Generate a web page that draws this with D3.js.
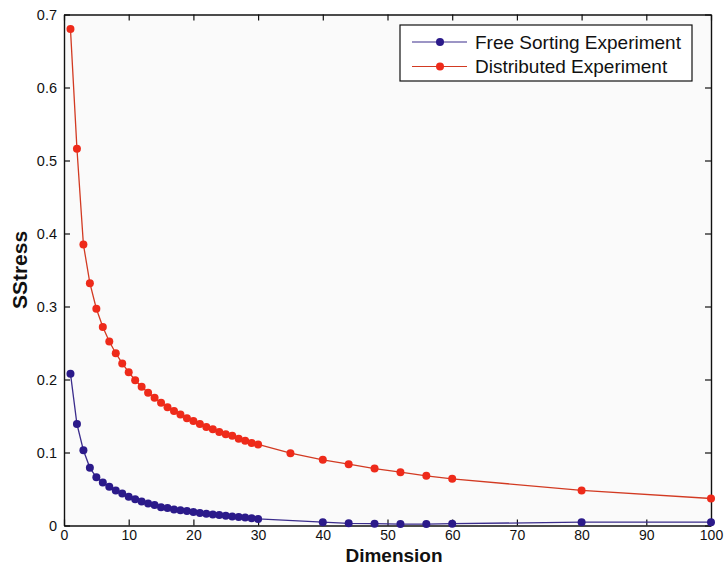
<!DOCTYPE html>
<html>
<head>
<meta charset="utf-8">
<script src="https://cdn.jsdelivr.net/npm/d3@7"></script>
<style>
  html, body { margin: 0; padding: 0; background: #ffffff; }
  svg { display: block; }
  text { font-family: "Liberation Sans", Arial, Helvetica, sans-serif; fill: #111; }
</style>
</head>
<body>
<svg id="chart" width="724" height="566"></svg>
<script>
// Dimensions evaluated for each experiment
const redDims = [1,2,3,4,5,6,7,8,9,10,11,12,13,14,15,16,17,18,19,20,21,22,23,24,25,26,27,28,29,30,35,40,44,48,52,56,60,80,100];
const redStress = [0.680,0.516,0.385,0.332,0.297,0.272,0.252,0.236,0.222,0.210,0.199,0.190,0.182,0.175,0.168,0.162,0.157,0.152,0.147,0.143,0.139,0.135,0.132,0.128,0.125,0.123,0.119,0.116,0.113,0.111,0.099,0.090,0.084,0.078,0.073,0.068,0.064,0.048,0.037];

const blueDims = [1,2,3,4,5,6,7,8,9,10,11,12,13,14,15,16,17,18,19,20,21,22,23,24,25,26,27,28,29,30,40,44,48,52,56,60,80,100];
const blueStress = [0.208,0.139,0.103,0.079,0.066,0.059,0.053,0.048,0.044,0.0395,0.036,0.033,0.030,0.028,0.025,0.024,0.022,0.021,0.020,0.0185,0.017,0.016,0.015,0.0145,0.0135,0.0125,0.0115,0.011,0.010,0.009,0.0045,0.003,0.0025,0.002,0.002,0.0025,0.0045,0.0045];

const seriesNames = ["Free Sorting Experiment", "Distributed Experiment"];
const xTicks = [0,10,20,30,40,50,60,70,80,90,100];
const yTicks = [0,0.1,0.2,0.3,0.4,0.5,0.6,0.7];

const svg = d3.select("#chart");
const plotLeft = 64, plotRight = 711, plotTop = 14.5, plotBottom = 525.5;

const x = d3.scaleLinear().domain([0, 100]).range([plotLeft, plotRight]);
const y = d3.scaleLinear().domain([0, 0.7]).range([plotBottom, plotTop]);

// plot area background
svg.append("rect")
  .attr("x", plotLeft).attr("y", plotTop)
  .attr("width", plotRight - plotLeft).attr("height", plotBottom - plotTop)
  .attr("fill", "#fafafa");

const fmtY = v => v === 0 ? "0" : d3.format(".1f")(v);

// bottom axis (ticks inward)
const gx = svg.append("g").attr("transform", `translate(0,${plotBottom})`)
  .call(d3.axisBottom(x).tickValues(xTicks).tickSizeInner(-6).tickSizeOuter(0).tickPadding(5).tickFormat(d3.format("d")));
// top axis, ticks only
const gxt = svg.append("g").attr("transform", `translate(0,${plotTop})`)
  .call(d3.axisTop(x).tickValues(xTicks).tickSizeInner(-6).tickSizeOuter(0).tickFormat(""));
// left axis
const gy = svg.append("g").attr("transform", `translate(${plotLeft},0)`)
  .call(d3.axisLeft(y).tickValues(yTicks).tickSizeInner(-6).tickSizeOuter(0).tickPadding(7).tickFormat(fmtY));
// right axis, ticks only
const gyr = svg.append("g").attr("transform", `translate(${plotRight},0)`)
  .call(d3.axisRight(y).tickValues(yTicks).tickSizeInner(-6).tickSizeOuter(0).tickFormat(""));

[gx, gxt, gy, gyr].forEach(g => {
  g.select(".domain").attr("stroke", "#111").attr("stroke-width", 1.4);
  g.selectAll(".tick line").attr("stroke", "#111").attr("stroke-width", 1.2);
  g.selectAll(".tick text").attr("font-size", 14.5).attr("fill", "#111")
    .attr("font-family", "Liberation Sans, Arial, sans-serif");
});
gx.selectAll(".tick text").attr("font-size", 14).attr("dy", "0.71em");

// axis titles
svg.append("text")
  .attr("x", 394).attr("y", 562)
  .attr("text-anchor", "middle")
  .attr("font-size", 19).attr("font-weight", "bold")
  .text("Dimension");
svg.append("text")
  .attr("transform", "translate(27,270) rotate(-90)")
  .attr("text-anchor", "middle")
  .attr("font-size", 21).attr("font-weight", "bold")
  .text("SStress");

const line = d3.line().x(d => x(d[0])).y(d => y(d[1]));

const series = [
  { name: seriesNames[1], dims: redDims, vals: redStress, lineColor: "#d23a22", dotColor: "#ee2a1a" },
  { name: seriesNames[0], dims: blueDims, vals: blueStress, lineColor: "#3b2d8c", dotColor: "#2b1a8a" }
];

series.forEach(s => {
  const pts = s.dims.map((d, i) => [d, s.vals[i]]);
  svg.append("path")
    .datum(pts)
    .attr("fill", "none")
    .attr("stroke", s.lineColor)
    .attr("stroke-width", 1.3)
    .attr("d", line);
  svg.append("g").selectAll("circle")
    .data(pts)
    .join("circle")
    .attr("cx", d => x(d[0]))
    .attr("cy", d => y(d[1]))
    .attr("r", 4)
    .attr("fill", s.dotColor);
});

// legend
const lg = svg.append("g");
lg.append("rect")
  .attr("x", 400).attr("y", 25)
  .attr("width", 292).attr("height", 56)
  .attr("fill", "#ffffff")
  .attr("stroke", "#111").attr("stroke-width", 1.2);

const legendItems = [
  { name: seriesNames[0], lineColor: "#3b2d8c", dotColor: "#2b1a8a", yy: 42 },
  { name: seriesNames[1], lineColor: "#d23a22", dotColor: "#ee2a1a", yy: 66.5 }
];
legendItems.forEach(it => {
  lg.append("line")
    .attr("x1", 412).attr("x2", 467)
    .attr("y1", it.yy).attr("y2", it.yy)
    .attr("stroke", it.lineColor).attr("stroke-width", 1.2);
  lg.append("circle")
    .attr("cx", 440).attr("cy", it.yy).attr("r", 4)
    .attr("fill", it.dotColor);
  lg.append("text")
    .attr("x", 475).attr("y", it.yy)
    .attr("dy", "0.35em")
    .attr("font-size", 19)
    .text(it.name);
});
</script>
</body>
</html>
